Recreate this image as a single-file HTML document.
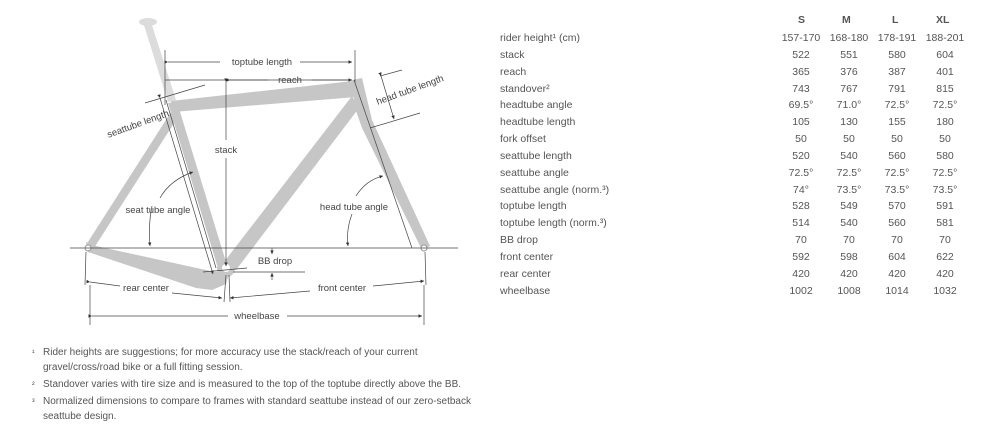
<!DOCTYPE html>
<html><head><style>
body{margin:0;width:1000px;height:425px;background:#fff;font-family:"Liberation Sans",sans-serif;color:#555;position:relative;overflow:hidden}
.t{position:absolute;font-size:10.5px;white-space:nowrap}
.fn{position:absolute;font-size:10px;color:#555;left:43px;white-space:nowrap}
.mk{position:absolute;font-size:8px;left:32px}
</style></head><body>
<svg width="500" height="340" style="position:absolute;left:0;top:0" font-family="Liberation Sans, sans-serif" font-size="9.5" fill="#444">
<defs><marker id="a" markerWidth="6" markerHeight="6" refX="5" refY="3" orient="auto"><path d="M0,0.5 L5,3 L0,5.5z" fill="#333"/></marker></defs>
<g fill="#c6c6c6" stroke="none">
<polygon points="143,22 151,22 176,100 168,102" fill="#dcdcdc"/>
<ellipse cx="148" cy="22" rx="9" ry="4" fill="#dcdcdc"/>
<polygon points="171,101 353,81 360,93 356,97 173,112"/>
<polygon points="352,80 362,78 372,120 430,246 422,250 362,128 355,108"/>
<polygon points="352,96 359,108 236,270 224,262"/>
<polygon points="168,103 177,102 226,262 217,265"/>
<polygon points="171,112 176,120 94,248 86,245"/>
<polygon points="86,242 96,246 215,272 230,270 226,284 212,290 196,288 88,252"/>
<circle cx="226" cy="268" r="9"/>
</g>
<circle cx="226" cy="268" r="4" fill="#fff"/>
<circle cx="424" cy="248" r="3" fill="#fff" stroke="#999"/>
<circle cx="88" cy="248" r="3" fill="#fff" stroke="#999"/>
<g stroke="#444" stroke-width="0.7" fill="none">
<line x1="70" y1="248" x2="458" y2="248"/>
<line x1="165" y1="50" x2="165" y2="105"/>
<line x1="355" y1="50" x2="355" y2="82"/>
<line x1="168" y1="62" x2="220" y2="62" marker-start="url(#a)"/>
<line x1="300" y1="62" x2="352" y2="62" marker-end="url(#a)"/>
<line x1="165" y1="80" x2="352" y2="80"/>
<line x1="230" y1="80" x2="268" y2="80" marker-start="url(#a)"/>
<line x1="312" y1="80" x2="352" y2="80" marker-end="url(#a)"/>
<line x1="226" y1="82" x2="226" y2="140" marker-start="url(#a)"/>
<line x1="226" y1="158" x2="226" y2="266" marker-end="url(#a)"/>
<line x1="166" y1="100" x2="216" y2="268"/>
<line x1="354" y1="80" x2="412" y2="248"/>
<line x1="145" y1="103" x2="205" y2="85"/>
<line x1="370" y1="128" x2="420" y2="113"/>
<line x1="380" y1="76" x2="402" y2="70"/>
<line x1="160" y1="98" x2="213" y2="274" marker-start="url(#a)" marker-end="url(#a)"/>
<line x1="381" y1="76" x2="394" y2="119" marker-start="url(#a)" marker-end="url(#a)"/>
<line x1="203" y1="272" x2="247" y2="268"/>
<line x1="233" y1="272" x2="305" y2="272"/>
<line x1="272" y1="248" x2="272" y2="254" marker-end="url(#a)"/>
<line x1="272" y1="280" x2="272" y2="273" marker-end="url(#a)"/>
<line x1="86" y1="252" x2="85" y2="285"/>
<line x1="226" y1="275" x2="224" y2="302"/>
<line x1="229" y1="275" x2="230" y2="302"/>
<line x1="425" y1="252" x2="426" y2="285"/>
<line x1="90" y1="282" x2="120" y2="286" marker-start="url(#a)"/>
<line x1="172" y1="293" x2="222" y2="298" marker-end="url(#a)"/>
<line x1="310" y1="291" x2="230" y2="298" marker-end="url(#a)"/>
<line x1="373" y1="286" x2="424" y2="281" marker-end="url(#a)"/>
<line x1="90" y1="285" x2="90" y2="325"/>
<line x1="424" y1="285" x2="424" y2="325"/>
<line x1="92" y1="316" x2="228" y2="316" marker-start="url(#a)"/>
<line x1="287" y1="316" x2="422" y2="316" marker-end="url(#a)"/>
<path d="M152,206 Q148,225 150,246" marker-end="url(#a)"/>
<path d="M160,198 Q170,180 193,172" marker-end="url(#a)"/>
<path d="M352,214 Q346,230 348,246" marker-end="url(#a)"/>
<path d="M356,196 Q366,180 383,176" marker-end="url(#a)"/>
</g>
<g text-anchor="middle" fill="#444">
<text x="262" y="65">toptube length</text>
<text x="290" y="83">reach</text>
<text x="226" y="153">stack</text>
<text x="158" y="213">seat tube angle</text>
<text x="354" y="210">head tube angle</text>
<text x="275" y="264">BB drop</text>
<text x="146" y="291">rear center</text>
<text x="342" y="291">front center</text>
<text x="257" y="319">wheelbase</text>
<text x="138" y="127" transform="rotate(-20 138 124)">seattube length</text>
<text x="410" y="93" transform="rotate(-20 410 90)">head tube length</text>
</g>
</svg>
<div class="t" style="left:798px;top:14px;font-weight:bold">S</div>
<div class="t" style="left:842px;top:14px;font-weight:bold">M</div>
<div class="t" style="left:892px;top:14px;font-weight:bold">L</div>
<div class="t" style="left:936px;top:14px;font-weight:bold">XL</div>
<div style="position:absolute;left:500px;top:30px;font-size:10.5px;line-height:16.85px">
<div>rider height¹ (cm)</div><div>stack</div><div>reach</div><div>standover²</div><div>headtube angle</div><div>headtube length</div><div>fork offset</div><div>seattube length</div><div>seattube angle</div><div>seattube angle (norm.³)</div><div>toptube length</div><div>toptube length (norm.³)</div><div>BB drop</div><div>front center</div><div>rear center</div><div>wheelbase</div>
</div>
<div style="position:absolute;left:777px;top:30px;font-size:10.5px;line-height:16.85px;text-align:center">
<div style="display:grid;grid-template-columns:48px 48px 48px 48px">
<div>157-170</div><div>168-180</div><div>178-191</div><div>188-201</div>
<div>522</div><div>551</div><div>580</div><div>604</div>
<div>365</div><div>376</div><div>387</div><div>401</div>
<div>743</div><div>767</div><div>791</div><div>815</div>
<div>69.5°</div><div>71.0°</div><div>72.5°</div><div>72.5°</div>
<div>105</div><div>130</div><div>155</div><div>180</div>
<div>50</div><div>50</div><div>50</div><div>50</div>
<div>520</div><div>540</div><div>560</div><div>580</div>
<div>72.5°</div><div>72.5°</div><div>72.5°</div><div>72.5°</div>
<div>74°</div><div>73.5°</div><div>73.5°</div><div>73.5°</div>
<div>528</div><div>549</div><div>570</div><div>591</div>
<div>514</div><div>540</div><div>560</div><div>581</div>
<div>70</div><div>70</div><div>70</div><div>70</div>
<div>592</div><div>598</div><div>604</div><div>622</div>
<div>420</div><div>420</div><div>420</div><div>420</div>
<div>1002</div><div>1008</div><div>1014</div><div>1032</div>
</div></div>
<div class="mk" style="top:348px">¹</div><div class="fn" style="top:347px">Rider heights are suggestions; for more accuracy use the stack/reach of your current</div>
<div class="fn" style="top:362px">gravel/cross/road bike or a full fitting session.</div>
<div class="mk" style="top:380px">²</div><div class="fn" style="top:379px">Standover varies with tire size and is measured to the top of the toptube directly above the BB.</div>
<div class="mk" style="top:397px">³</div><div class="fn" style="top:396px">Normalized dimensions to compare to frames with standard seattube instead of our zero-setback</div>
<div class="fn" style="top:411px">seattube design.</div>
</body></html>
